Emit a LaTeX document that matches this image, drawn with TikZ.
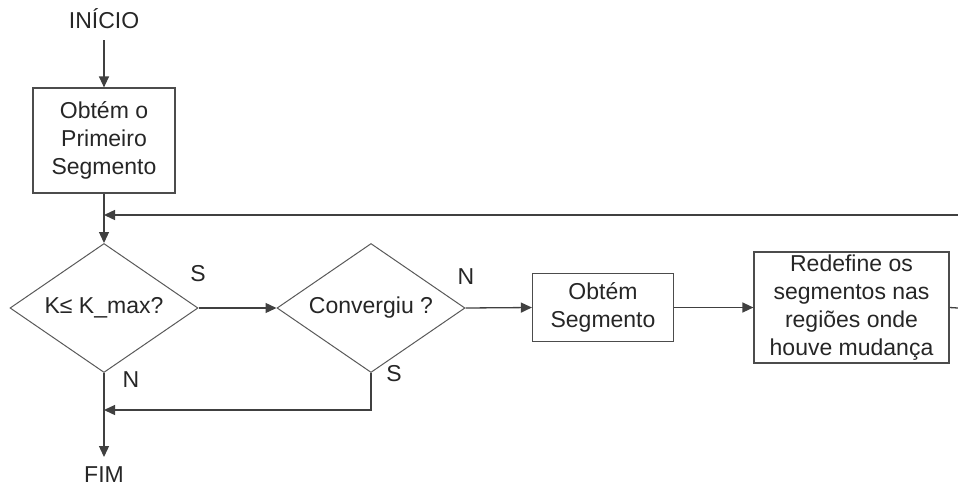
\documentclass[tikz,border=0pt]{standalone}
\usepackage{fontspec}
\setmainfont{Liberation Sans}
\usetikzlibrary{shapes.geometric,arrows.meta}
\begin{document}
\begin{tikzpicture}[x=1pt,y=-1pt,
  every node/.style={font=\fontsize{23}{28}\selectfont, text=black!85},
  stepbox/.style={draw=black!70, line width=1.2pt, align=center, inner sep=0pt},
  decision/.style={draw=black!65, line width=1pt, diamond, aspect=1.457, inner sep=0pt, minimum width=188pt, minimum height=129pt},
  conn/.style={draw=black!75, line width=1.3pt},
  arr/.style={conn, -{Triangle[length=11pt,width=10pt]}},
  lbl/.style={inner sep=0pt}
]
\useasboundingbox (0,0) rectangle (958,488);
\node[lbl] (inicio) at (104,19) {INÍCIO};
\node[stepbox, minimum width=142pt, minimum height=105pt] (b1) at (104,140.5) {Obtém o\\Primeiro\\Segmento};
\node[decision] (d1) at (104,308) {K≤ K\_max?};
\node[decision] (d2) at (371,308) {Convergiu ?};
\node[stepbox, minimum width=141pt, minimum height=68pt] (b2) at (603,307.5) {Obtém\\Segmento};
\node[stepbox, minimum width=195pt, minimum height=111pt] (b3) at (851.5,307.5) {Redefine os\\segmentos nas\\regiões onde\\houve mudança};
\node[lbl] (fim) at (104,475) {FIM};
\node[lbl] (s1) at (198,274) {S};
\node[lbl] (n1) at (131,380) {N};
\node[lbl] (n2) at (466,277) {N};
\node[lbl] (s2) at (394,374) {S};
\coordinate (r1) at (958,308);
\coordinate (r2) at (958,215);
\coordinate (j1) at (104,215);
\coordinate (c1) at (371,410);
\coordinate (c2) at (104,410);
\coordinate (st) at (104,40);
\draw[arr] (st) -- (b1.north);
\draw[arr] (b1.south) -- (d1.north);
\draw[arr] (r2) -- (j1);
\draw[arr] (d1.east) -- (d2.west);
\draw[arr] (d2.east) -- (b2.west);
\draw[arr] (b2.east) -- (b3.west);
\draw[conn] (b3.east) -- (r1);
\draw[arr] (d2.south) -- (c1) -- (c2);
\draw[arr] (d1.south) -- (104,457);
\end{tikzpicture}
\end{document}
